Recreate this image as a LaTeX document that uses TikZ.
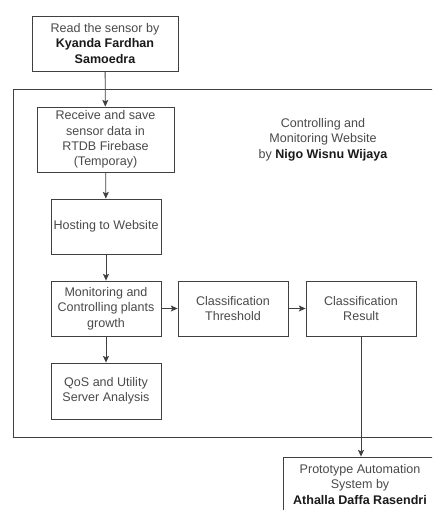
\documentclass[tikz,border=0pt]{standalone}
\usepackage{fontspec}
\setmainfont{Liberation Sans}
\usetikzlibrary{arrows.meta}
\definecolor{txt}{HTML}{4A4A4A}
\definecolor{ln}{HTML}{404040}
\definecolor{bld}{HTML}{1A1A1A}
\begin{document}
\begin{tikzpicture}[x=0.75pt,y=-0.75pt,
  box/.style={draw=ln,line width=0.65pt,rectangle,align=center,inner sep=1pt,
    text=txt,font=\fontsize{9.4}{11.5}\selectfont},
  arr/.style={draw=ln,line width=0.65pt,-{Stealth[length=5pt,width=4.5pt,inset=1pt]}}]
\useasboundingbox (0,0) rectangle (432,510);
\clip (0,0) rectangle (432,510);
\fill[white] (0,0) rectangle (432,510);
\node[draw=ln,line width=0.65pt,minimum width=320.25pt,minimum height=261pt] (frame) at (226.5,263) {};
\node[box,minimum width=109.5pt,minimum height=41.25pt] (top) at (105,43.5)
  {Read the sensor by\\\textbf{\color{bld}Kyanda Fardhan}\\\textbf{\color{bld}Samoedra}};
\node[box,minimum width=102.75pt,minimum height=48.75pt] (recv) at (105.5,139.5)
  {Receive and save\\sensor data in\\RTDB Firebase\\(Temporay)};
\node[box,minimum width=82.5pt,minimum height=41.25pt] (host) at (106,226.5)
  {Hosting to Website};
\node[box,minimum width=82.5pt,minimum height=41.25pt] (mon) at (106,308.5)
  {Monitoring and\\Controlling plants\\growth};
\node[box,minimum width=82.5pt,minimum height=41.25pt] (thr) at (233,308.5)
  {Classification\\Threshold};
\node[box,minimum width=82.5pt,minimum height=41.25pt] (res) at (361,308.5)
  {Classification\\Result};
\node[box,minimum width=82.5pt,minimum height=42pt] (qos) at (106,391)
  {QoS and Utility\\Server Analysis};
\node[box,minimum width=115.5pt,minimum height=41.25pt] (proto) at (360,484.5)
  {Prototype Automation\\System by\\\textbf{\color{bld}Athalla Daffa Rasendri}};
\node[align=center,text=txt,font=\fontsize{9.4}{11.5}\selectfont] (lbl) at (323,139.5)
  {Controlling and\\Monitoring Website\\by \textbf{\color{bld}Nigo Wisnu Wijaya}};
\draw[arr] (top) -- (recv);
\draw[arr] (recv) -- (host);
\draw[arr] (host) -- (mon);
\draw[arr] (mon) -- (qos);
\draw[arr] (mon) -- (thr);
\draw[arr] (thr) -- (res);
\draw[arr] (res.south) -- (res.south |- proto.north);
\end{tikzpicture}
\end{document}
